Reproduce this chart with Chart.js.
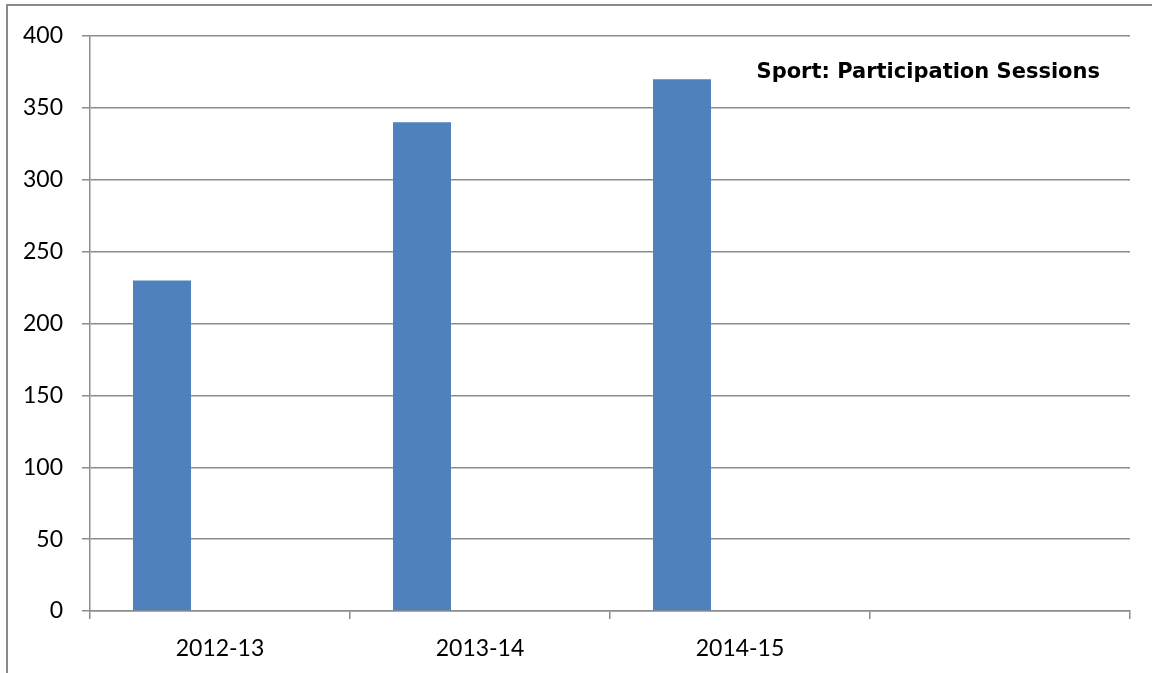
<!DOCTYPE html>
<html>
<head>
<meta charset="utf-8">
<script src="https://cdn.jsdelivr.net/npm/chart.js@4"></script>
<style>
  html, body { margin: 0; padding: 0; background: #fff; overflow: hidden; }
  #wrap { position: relative; width: 1152px; height: 673px; }
  #frame {
    position: absolute; left: 6px; top: 4px; width: 1160px; height: 690px;
    border: 2px solid #8a8a8a; pointer-events: none;
  }
</style>
</head>
<body>
<div id="wrap">
  <canvas id="chart" width="1152" height="673"></canvas>
  <div id="frame"></div>
</div>
<script>
// data
const categories = ['2012-13', '2013-14', '2014-15', '']
const sessions = [230, 340, 370, null]
// the original has two more (empty) series in each group
const emptySeriesA = [null, null, null, null]
const emptySeriesB = [null, null, null, null]
const yTicks = [0, 50, 100, 150, 200, 250, 300, 350, 400]
const chartTitle = 'Sport: Participation Sessions'

const gridColor = '#8c8c8c'
const fontFamily = 'Lato, "Open Sans", sans-serif'

// title sits inside the plot, top right
const titlePlugin = {
  id: 'insideTitle',
  afterDraw: (chart) => {
    const ctx = chart.ctx
    ctx.save()
    ctx.font = 'bold 20px "DejaVu Sans", sans-serif'
    // fit the text to the width it has in the original
    const w = ctx.measureText(chartTitle).width
    const size = Math.round(20 * 350 / w)
    ctx.font = 'bold ' + size + 'px "DejaVu Sans", sans-serif'
    ctx.fillStyle = '#000'
    ctx.textAlign = 'right'
    ctx.textBaseline = 'alphabetic'
    ctx.fillText(chartTitle, 1100, 78)
    ctx.restore()
  },
}

const ctx = document.getElementById('chart').getContext('2d')
new Chart(ctx, {
  type: 'bar',
  data: {
    labels: categories,
    datasets: [
      { label: 'Sessions', data: sessions, backgroundColor: '#4f81bd' },
      { label: 'A', data: emptySeriesA, backgroundColor: '#c0504d' },
      { label: 'B', data: emptySeriesB, backgroundColor: '#9bbb59' },
    ],
  },
  options: {
    responsive: false,
    animation: false,
    layout: { padding: { left: 8, top: 36, right: 22, bottom: 0 } },
    categoryPercentage: 174 / 260,
    barPercentage: 1,
    plugins: {
      legend: { display: false },
      tooltip: { enabled: false },
      title: { display: false },
    },
    scales: {
      x: {
        grid: {
          offset: true,
          drawOnChartArea: false,
          color: gridColor,
          lineWidth: 1.5,
          tickLength: 8,
        },
        border: { color: gridColor, width: 1.5 },
        ticks: { color: '#000', font: { family: fontFamily, size: 23 }, padding: 16, maxRotation: 0 },
        afterFit: (axis) => { axis.height = 673 - 611 },
      },
      y: {
        min: 0,
        max: 400,
        afterBuildTicks: (axis) => { axis.ticks = yTicks.map(v => ({ value: v })) },
        grid: { color: gridColor, lineWidth: 1.5, tickLength: 8 },
        border: { color: gridColor, width: 1.5 },
        ticks: { color: '#000', font: { family: fontFamily, size: 23 }, padding: 19 },
        afterFit: (axis) => { axis.width = 90 - 8 },
      },
    },
  },
  plugins: [titlePlugin],
})
</script>
</body>
</html>
